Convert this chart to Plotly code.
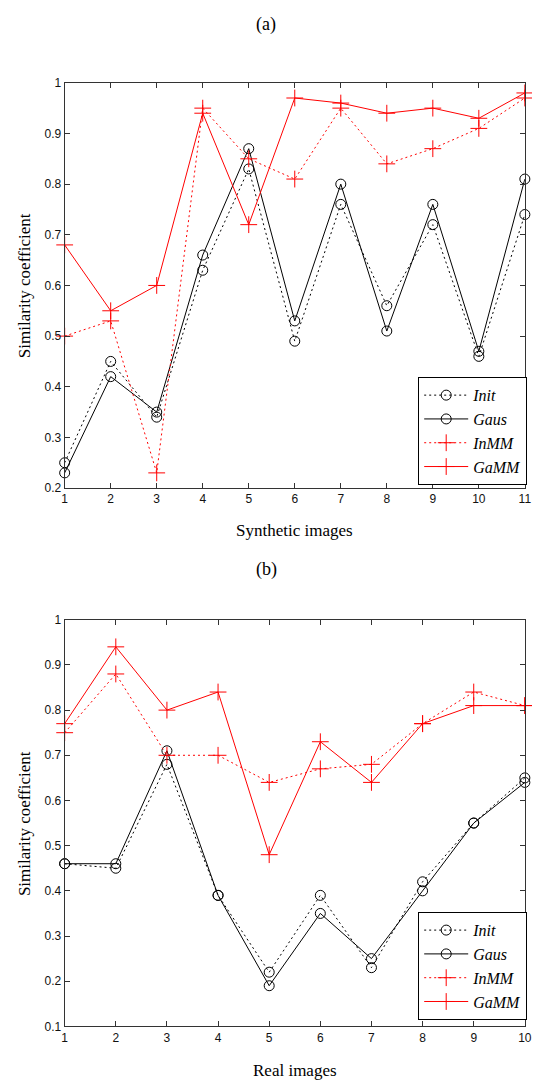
import plotly.graph_objects as go

# ---- data (a) synthetic images ----
x_a = list(range(1, 12))
init_a = [0.25, 0.45, 0.34, 0.63, 0.83, 0.49, 0.76, 0.56, 0.72, 0.46, 0.74]
gaus_a = [0.23, 0.42, 0.35, 0.66, 0.87, 0.53, 0.80, 0.51, 0.76, 0.47, 0.81]
inmm_a = [0.50, 0.53, 0.23, 0.95, 0.85, 0.81, 0.95, 0.84, 0.87, 0.91, 0.97]
gamm_a = [0.68, 0.55, 0.60, 0.94, 0.72, 0.97, 0.96, 0.94, 0.95, 0.93, 0.98]

# ---- data (b) real images ----
x_b = list(range(1, 11))
init_b = [0.46, 0.45, 0.68, 0.39, 0.22, 0.39, 0.23, 0.42, 0.55, 0.65]
gaus_b = [0.46, 0.46, 0.71, 0.39, 0.19, 0.35, 0.25, 0.40, 0.55, 0.64]
inmm_b = [0.75, 0.88, 0.70, 0.70, 0.64, 0.67, 0.68, 0.77, 0.84, 0.81]
gamm_b = [0.77, 0.94, 0.80, 0.84, 0.48, 0.73, 0.64, 0.77, 0.81, 0.81]

names = ["Init", "Gaus", "InMM", "GaMM"]
yticks_a = [0.2, 0.3, 0.4, 0.5, 0.6, 0.7, 0.8, 0.9, 1.0]
yticks_b = [0.1, 0.2, 0.3, 0.4, 0.5, 0.6, 0.7, 0.8, 0.9, 1.0]
ytext_a = ["0.2", "0.3", "0.4", "0.5", "0.6", "0.7", "0.8", "0.9", "1"]
ytext_b = ["0.1", "0.2", "0.3", "0.4", "0.5", "0.6", "0.7", "0.8", "0.9", "1"]

# page has an 8px body margin; figure is sized to fit inside it
W, H = 532, 1078
OFF = 8

def px(v):
    return (v - OFF) / W

def py(v):
    return 1 - (v - OFF) / H

fig = go.Figure()

styles = [
    dict(color="black", dash="2px,3px", symbol="circle-open", size=10),
    dict(color="black", dash="solid", symbol="circle-open", size=10),
    dict(color="red", dash="2px,3px", symbol="cross-thin-open", size=12),
    dict(color="red", dash="solid", symbol="cross-thin-open", size=12),
]

def add_set(xs, series, xa, ya, legend):
    for nm, ys, st in zip(names, series, styles):
        fig.add_trace(go.Scatter(
            x=xs, y=ys, mode="lines+markers", name="<i>%s</i>" % nm,
            xaxis=xa, yaxis=ya, legend=legend, cliponaxis=False,
            line=dict(color=st["color"], dash=st["dash"], width=1),
            marker=dict(symbol=st["symbol"], size=st["size"], color=st["color"],
                        line=dict(color=st["color"], width=1)),
        ))

add_set(x_a, [init_a, gaus_a, inmm_a, gamm_a], "x", "y", "legend")
add_set(x_b, [init_b, gaus_b, inmm_b, gamm_b], "x2", "y2", "legend2")

xd = [px(62.7), px(531.7)]
axis_common = dict(showline=True, linecolor="#333", linewidth=1, mirror="ticks",
                   ticks="inside", ticklen=5, tickcolor="#333", showgrid=False,
                   zeroline=False, tickfont=dict(family="Liberation Sans, Arial", size=12, color="#111"))
serif = "Liberation Serif, Times New Roman"
title_font = dict(family=serif, size=17, color="black")
legend_font = dict(family=serif, size=16, color="black")

def label(text, x, y, angle=0, size=17):
    return dict(text=text, x=px(x), y=py(y), xref="paper", yref="paper",
                xanchor="center", yanchor="middle", textangle=angle, showarrow=False,
                font=dict(family=serif, size=size, color="black"))

fig.update_layout(
    width=W, height=H, margin=dict(l=0, r=0, t=0, b=0),
    paper_bgcolor="white", plot_bgcolor="white",
    xaxis=dict(domain=xd, range=[1, 11], tickvals=x_a, anchor="y", **axis_common),
    yaxis=dict(domain=[py(487.3), py(76.7)], range=[0.2, 1], anchor="x",
               tickvals=yticks_a, ticktext=ytext_a, **axis_common),
    xaxis2=dict(domain=xd, range=[1, 10], tickvals=x_b, anchor="y2", **axis_common),
    yaxis2=dict(domain=[py(1032.7), py(620.7)], range=[0.1, 1], anchor="x2",
                tickvals=yticks_b, ticktext=ytext_b, **axis_common),
    legend=dict(x=px(423), y=py(375), xanchor="left", yanchor="top", itemwidth=44,
                bordercolor="black", borderwidth=1, bgcolor="white", font=legend_font),
    legend2=dict(x=px(423), y=py(917), xanchor="left", yanchor="top", itemwidth=44,
                 bordercolor="black", borderwidth=1, bgcolor="white", font=legend_font),
    showlegend=True,
    annotations=[
        label("(a)", 268, 18, size=18),
        label("(b)", 268, 570, size=18),
        label("Synthetic images", 297, 530),
        label("Real images", 297, 1077),
        label("Similarity coefficient", 22, 282, angle=-90),
        label("Similarity coefficient", 22, 827, angle=-90),
    ],
)

fig.write_html("out.html")
